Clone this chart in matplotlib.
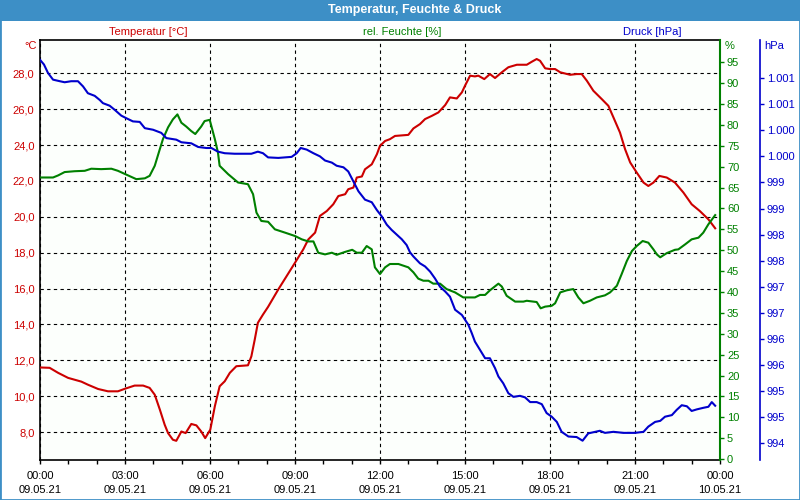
import matplotlib.pyplot as plt
from matplotlib.patches import Rectangle
from matplotlib.ticker import FixedLocator, FixedFormatter, MultipleLocator

plt.rcParams['font.family'] = ['Liberation Sans', 'DejaVu Sans']
plt.rcParams['font.size'] = 8

# Stunden seit 09.05.21 00:00
t_temp = [0.0, 0.34, 0.64, 0.99, 1.46, 1.69, 2.05, 2.40, 2.75, 3.01, 3.34, 3.64, 3.87, 4.05, 4.23,
          4.40, 4.52, 4.69, 4.81, 4.99, 5.14, 5.34, 5.52, 5.69, 5.83, 6.01, 6.17, 6.34, 6.52, 6.70,
          6.93, 7.34, 7.46, 7.58, 7.69, 7.87, 8.05, 8.41, 9.00, 9.29, 9.47, 9.71, 9.88, 10.12, 10.35,
          10.53, 10.77, 10.88, 11.06, 11.18, 11.36, 11.47, 11.71, 11.89, 12.00, 12.18, 12.35, 12.53,
          13.00, 13.18, 13.41, 13.59, 13.83, 14.06, 14.30, 14.47, 14.71, 14.89, 15.00, 15.18, 15.35,
          15.47, 15.68, 15.88, 16.06, 16.30, 16.53, 16.83, 17.18, 17.36, 17.53, 17.65, 17.83, 18.00,
          18.18, 18.36, 18.71, 18.94, 19.12, 19.30, 19.53, 19.83, 20.06, 20.24, 20.47, 20.65, 20.83,
          21.06, 21.30, 21.47, 21.65, 21.86, 22.12, 22.41, 22.71, 23.00, 23.29, 23.59, 23.83]
temp = [11.6, 11.58, 11.30, 11.02, 10.81, 10.64, 10.40, 10.27, 10.27, 10.42, 10.59, 10.59, 10.46, 10.08, 9.25,
        8.41, 7.94, 7.57, 7.51, 8.03, 7.94, 8.45, 8.37, 8.03, 7.66, 8.13, 9.43, 10.55, 10.83, 11.30,
        11.67, 11.72, 12.22, 13.16, 14.09, 14.55, 14.98, 15.95, 17.44, 18.18, 18.74, 19.12, 20.05, 20.32, 20.70,
        21.16, 21.26, 21.54, 21.63, 22.19, 22.25, 22.65, 22.93, 23.49, 23.96, 24.23, 24.33, 24.51,
        24.57, 24.93, 25.17, 25.45, 25.63, 25.82, 26.23, 26.66, 26.60, 26.94, 27.31, 27.87, 27.83,
        27.87, 27.68, 27.96, 27.74, 28.06, 28.34, 28.48, 28.48, 28.65, 28.80, 28.70, 28.28, 28.24,
        28.24, 28.06, 27.92, 27.96, 27.96, 27.59, 27.03, 26.56, 26.19, 25.54, 24.70, 23.77, 23.03,
        22.47, 21.91, 21.72, 21.91, 22.28, 22.19, 21.91, 21.35, 20.70, 20.32, 19.86, 19.36]

t_hum = [0.0, 0.46, 0.64, 0.87, 1.22, 1.58, 1.81, 2.16, 2.52, 2.75, 3.01, 3.40, 3.70, 3.87, 4.05,
         4.23, 4.34, 4.52, 4.69, 4.85, 4.99, 5.16, 5.34, 5.48, 5.69, 5.81, 5.99, 6.17, 6.28, 6.34,
         6.64, 6.99, 7.34, 7.52, 7.64, 7.81, 8.05, 8.29, 8.65, 9.00, 9.24, 9.47, 9.65, 9.82, 10.06,
         10.30, 10.47, 10.77, 11.02, 11.18, 11.36, 11.53, 11.71, 11.82, 12.00, 12.18, 12.35, 12.65,
         13.00, 13.18, 13.35, 13.53, 13.71, 13.88, 14.12, 14.35, 14.65, 14.94, 15.35, 15.53, 15.71,
         15.88, 16.18, 16.30, 16.47, 16.77, 17.06, 17.18, 17.53, 17.67, 17.83, 18.06, 18.18, 18.36,
         18.59, 18.82, 19.00, 19.18, 19.41, 19.65, 19.94, 20.12, 20.36, 20.53, 20.71, 20.89, 21.06,
         21.27, 21.47, 21.65, 21.77, 21.89, 22.12, 22.41, 22.53, 22.77, 23.00, 23.24, 23.41, 23.59, 23.83]
hum = [67.4, 67.4, 67.9, 68.7, 68.9, 69.0, 69.5, 69.4, 69.5, 69.0, 68.2, 67.0, 67.2, 67.8, 70.2,
       74.2, 76.6, 79.4, 81.3, 82.5, 80.5, 79.6, 78.5, 77.8, 79.6, 80.9, 81.2, 76.6, 73.4, 70.2,
       68.2, 66.2, 65.8, 63.4, 59.0, 57.0, 56.8, 55.0, 54.2, 53.4, 52.6, 52.1, 52.1, 49.4, 49.0,
       49.4, 48.9, 49.6, 50.1, 49.4, 49.4, 51.0, 50.2, 45.9, 44.3, 45.9, 46.7, 46.7,
       45.9, 44.7, 43.2, 42.7, 42.7, 42.0, 42.0, 40.7, 39.9, 38.7, 38.7, 39.3, 39.3,
       40.4, 42.0, 41.3, 39.1, 37.7, 37.7, 37.9, 37.6, 36.1, 36.5, 36.7, 37.3, 39.9,
       40.4, 40.7, 38.7, 37.3, 37.9, 38.7, 39.2, 39.9, 41.5, 44.3, 47.4, 49.8, 51.0,
       52.2, 51.8, 50.2, 49.0, 48.3, 49.3, 50.1, 50.2, 51.4, 52.6, 53.0, 54.2, 56.2, 58.4]

t_press = [0.0, 0.14, 0.28, 0.46, 0.70, 0.87, 1.10, 1.34, 1.52, 1.69, 1.93, 2.11, 2.22, 2.46, 2.64,
           2.87, 3.05, 3.28, 3.52, 3.70, 3.99, 4.28, 4.46, 4.81, 4.99, 5.34, 5.58, 5.87, 6.05, 6.28,
           6.52, 6.87, 7.46, 7.69, 7.87, 8.05, 8.41, 8.88, 9.06, 9.20, 9.41, 9.65, 9.88, 10.06, 10.30,
           10.47, 10.71, 10.88, 11.06, 11.24, 11.47, 11.71, 11.89, 12.06, 12.24, 12.41, 12.59, 12.77,
           12.94, 13.06, 13.18, 13.41, 13.59, 13.77, 13.94, 14.12, 14.30, 14.47, 14.65, 14.89, 15.12,
           15.24, 15.35, 15.53, 15.71, 15.88, 16.06, 16.18, 16.35, 16.53, 16.71, 16.94, 17.12, 17.30,
           17.53, 17.71, 17.88, 18.06, 18.24, 18.41, 18.65, 18.94, 19.15, 19.35, 19.76, 19.94, 20.24,
           20.59, 21.00, 21.30, 21.47, 21.71, 21.89, 22.06, 22.30, 22.47, 22.65, 22.83, 23.00, 23.18,
           23.41, 23.59, 23.71, 23.83]
press = [1001.35, 1001.26, 1001.10, 1000.97, 1000.94, 1000.92, 1000.94, 1000.94, 1000.84, 1000.71,
         1000.66, 1000.58, 1000.52, 1000.47, 1000.39, 1000.28, 1000.23, 1000.17, 1000.16, 1000.04,
         1000.01, 999.95, 999.85, 999.82, 999.77, 999.75, 999.68, 999.66, 999.66, 999.59,
         999.56, 999.55, 999.55, 999.59, 999.56, 999.48, 999.47, 999.49, 999.56, 999.66,
         999.63, 999.56, 999.50, 999.42, 999.38, 999.32, 999.29, 999.21, 999.02, 998.83,
         998.67, 998.62, 998.47, 998.35, 998.19, 998.09, 998.00, 997.91, 997.80, 997.66,
         997.58, 997.45, 997.39, 997.29, 997.16, 997.00, 996.91, 996.81, 996.56, 996.46,
         996.27, 996.11, 995.95, 995.79, 995.63, 995.63, 995.44, 995.28, 995.15, 994.96,
         994.89, 994.91, 994.88, 994.79, 994.79, 994.75, 994.58, 994.51, 994.41, 994.22,
         994.13, 994.12, 994.05, 994.19, 994.24, 994.20, 994.22, 994.20, 994.20, 994.22,
         994.32, 994.41, 994.43, 994.51, 994.54, 994.64, 994.73, 994.71, 994.62, 994.65,
         994.68, 994.70, 994.79, 994.72]

x_ticks = [0, 3, 6, 9, 12, 15, 18, 21, 24]
x_labels = ['00:00\n09.05.21', '03:00\n09.05.21', '06:00\n09.05.21', '09:00\n09.05.21',
            '12:00\n09.05.21', '15:00\n09.05.21', '18:00\n09.05.21', '21:00\n09.05.21',
            '00:00\n10.05.21']
temp_ticks = [8, 10, 12, 14, 16, 18, 20, 22, 24, 26, 28]
temp_labels = ['8,0', '10,0', '12,0', '14,0', '16,0', '18,0', '20,0', '22,0', '24,0', '26,0', '28,0']
hum_ticks = [0, 5, 10, 15, 20, 25, 30, 35, 40, 45, 50, 55, 60, 65, 70, 75, 80, 85, 90, 95]
press_ticks = [994.0, 994.5, 995.0, 995.5, 996.0, 996.5, 997.0, 997.5, 998.0, 998.5,
               999.0, 999.5, 1000.0, 1000.5, 1001.0]
press_labels = ['994', '995', '995', '996', '996', '997', '997', '998', '998', '999',
                '999', '1.000', '1.000', '1.001', '1.001']

red = '#cc0000'
green = '#008000'
blue = '#0000cc'
bar = '#3d8fc6'

fig = plt.figure(figsize=(8, 5), dpi=100)
fig.patch.set_facecolor('white')

# Titelleiste + Rahmen
fig.add_artist(Rectangle((0, 1 - 21 / 500), 1, 21 / 500, transform=fig.transFigure,
                         facecolor=bar, edgecolor='none'))
fig.add_artist(Rectangle((0, 0), 1, 1, transform=fig.transFigure, fill=False,
                         edgecolor=bar, lw=2))
fig.text(0.518, 1 - 10.5 / 500, 'Temperatur, Feuchte & Druck', color='white',
         weight='bold', fontsize=9, ha='center', va='center')

fig.text(148 / 800, 1 - 32 / 500, 'Temperatur [°C]', color=red, ha='center', va='center')
fig.text(402 / 800, 1 - 32 / 500, 'rel. Feuchte [%]', color=green, ha='center', va='center')
fig.text(652 / 800, 1 - 32 / 500, 'Druck [hPa]', color=blue, ha='center', va='center')
fig.text(37 / 800, 1 - 46 / 500, '°C', color=red, ha='right', va='center')
fig.text(725 / 800, 1 - 46 / 500, '%', color=green, ha='left', va='center')
fig.text(764 / 800, 1 - 46 / 500, 'hPa', color=blue, ha='left', va='center')

ax = fig.add_axes([40 / 800, 40 / 500, 680 / 800, 420 / 500])
ax.set_facecolor('#fcfffc')
ax.plot(t_temp, temp, color=red, lw=1.5, zorder=3)
ax.set_xlim(0, 24)
ax.set_ylim(6.44, 29.86)
ax.set_xticks(x_ticks)
ax.set_xticklabels(x_labels)
ax.xaxis.set_minor_locator(MultipleLocator(1))
for lbl in ax.get_xticklabels():
    lbl.set_linespacing(1.45)
ax.tick_params(axis='x', which='both', direction='out', length=3, width=1, pad=5, labelsize=8)
ax.yaxis.set_major_locator(FixedLocator(temp_ticks))
ax.yaxis.set_major_formatter(FixedFormatter(temp_labels))
ax.tick_params(axis='y', length=0, pad=4, labelcolor=red, labelsize=8)
ax.grid(True, which='major', color='black', lw=0.8, linestyle=(0, (3, 3)))
ax.spines['right'].set_visible(False)
for s in ['left', 'top', 'bottom']:
    ax.spines[s].set_linewidth(1.2)

ax2 = ax.twinx()
ax2.plot(t_hum, hum, color=green, lw=1.5)
ax2.set_ylim(-0.2, 100.3)
ax2.set_yticks(hum_ticks)
ax2.tick_params(axis='y', colors=green, length=3, width=1, pad=2, labelsize=8)
for s in ['left', 'top', 'bottom']:
    ax2.spines[s].set_visible(False)
ax2.spines['right'].set_color(green)
ax2.spines['right'].set_linewidth(1.5)

ax3 = ax.twinx()
ax3.plot(t_press, press, color=blue, lw=1.5)
ax3.set_ylim(993.68, 1001.73)
ax3.yaxis.set_major_locator(FixedLocator(press_ticks))
ax3.yaxis.set_major_formatter(FixedFormatter(press_labels))
ax3.spines['right'].set_position(('axes', 720 / 680))
ax3.tick_params(axis='y', colors=blue, length=3, width=1, pad=2, labelsize=8)
for s in ['left', 'top', 'bottom']:
    ax3.spines[s].set_visible(False)
ax3.spines['right'].set_color(blue)
ax3.spines['right'].set_linewidth(1.2)

fig.savefig('out.png', dpi=100)
